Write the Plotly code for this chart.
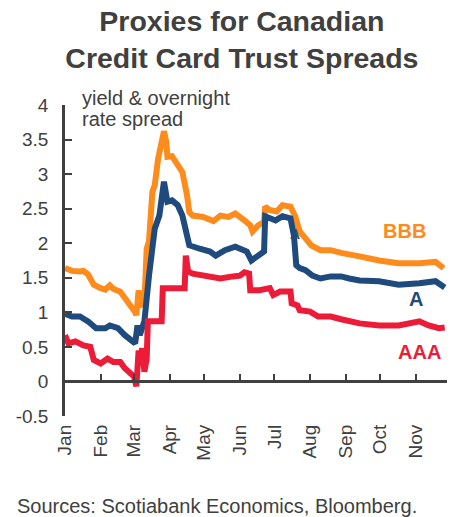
import plotly.graph_objects as go

# ---- data (2020) ----
bbb_dates = ["2020-01-01","2020-01-07","2020-01-14","2020-01-17","2020-01-21","2020-01-26","2020-02-01","2020-02-05",
             "2020-02-09","2020-02-12","2020-02-18","2020-02-24","2020-02-28","2020-03-02","2020-03-03","2020-03-05",
             "2020-03-06","2020-03-10","2020-03-12","2020-03-14","2020-03-17","2020-03-19","2020-03-22","2020-03-25",
             "2020-03-27","2020-03-29","2020-03-30","2020-04-03","2020-04-08","2020-04-12","2020-04-16","2020-04-18",
             "2020-04-21","2020-04-30","2020-05-09","2020-05-15","2020-05-22","2020-05-28","2020-06-05","2020-06-10",
             "2020-06-12","2020-06-17","2020-06-22","2020-06-23","2020-06-27","2020-07-03","2020-07-08","2020-07-15",
             "2020-07-19","2020-07-23","2020-07-28","2020-08-02","2020-08-10","2020-08-19","2020-08-28","2020-09-04",
             "2020-09-13","2020-09-30","2020-10-17","2020-11-04","2020-11-18","2020-11-25"]
bbb_values = [1.64,1.60,1.59,1.60,1.55,1.40,1.35,1.33,
              1.39,1.34,1.30,1.17,1.08,1.00,0.96,1.32,
              1.10,1.13,1.92,2.03,2.75,2.84,3.23,3.45,
              3.62,3.47,3.25,3.26,3.15,3.03,2.70,2.45,
              2.40,2.38,2.32,2.40,2.38,2.43,2.33,2.26,
              2.17,2.26,2.31,2.53,2.48,2.46,2.55,2.53,
              2.39,2.17,2.07,1.97,1.90,1.90,1.86,1.83,
              1.81,1.75,1.71,1.71,1.73,1.64]

a_dates = ["2020-01-01","2020-01-07","2020-01-14","2020-01-21","2020-01-28","2020-02-05","2020-02-09","2020-02-16",
           "2020-02-22","2020-02-28","2020-03-02","2020-03-04","2020-03-06","2020-03-10","2020-03-13","2020-03-14",
           "2020-03-19","2020-03-23","2020-03-27","2020-03-28","2020-03-30","2020-04-03","2020-04-08","2020-04-12",
           "2020-04-16","2020-04-18","2020-04-27","2020-05-06","2020-05-11","2020-05-19","2020-05-28","2020-06-01",
           "2020-06-07","2020-06-11","2020-06-17","2020-06-22","2020-06-23","2020-07-02","2020-07-08","2020-07-15",
           "2020-07-18","2020-07-20","2020-07-23","2020-07-28","2020-08-03","2020-08-10","2020-08-19","2020-08-28",
           "2020-09-04","2020-09-13","2020-09-30","2020-10-17","2020-11-04","2020-11-18","2020-11-26"]
a_values = [0.98,0.94,0.94,0.87,0.77,0.77,0.81,0.77,
            0.67,0.58,0.55,0.81,0.67,0.87,1.25,1.53,
            2.21,2.40,2.89,2.79,2.60,2.62,2.55,2.40,
            2.11,1.97,1.92,1.88,1.82,1.90,1.95,1.92,
            1.88,1.75,1.82,1.88,2.39,2.33,2.39,2.36,
            2.11,1.68,1.64,1.61,1.53,1.49,1.52,1.52,
            1.49,1.46,1.45,1.40,1.42,1.45,1.36]

aaa_dates = ["2020-01-01","2020-01-04","2020-01-10","2020-01-17","2020-01-23","2020-01-26","2020-02-01","2020-02-07",
             "2020-02-12","2020-02-18","2020-02-22","2020-02-26","2020-03-01","2020-03-03","2020-03-05","2020-03-06",
             "2020-03-08","2020-03-10","2020-03-12","2020-03-13","2020-03-25","2020-03-26","2020-04-14","2020-04-15",
             "2020-04-17","2020-04-21","2020-05-04","2020-05-15","2020-05-26","2020-06-01","2020-06-05","2020-06-09",
             "2020-06-10","2020-06-18","2020-06-27","2020-06-30","2020-07-06","2020-07-15","2020-07-16","2020-07-21",
             "2020-07-23","2020-08-01","2020-08-08","2020-08-19","2020-08-28","2020-09-03","2020-09-13","2020-09-30",
             "2020-10-17","2020-11-04","2020-11-12","2020-11-21","2020-11-26"]
aaa_values = [0.67,0.55,0.58,0.52,0.50,0.31,0.26,0.33,
              0.28,0.28,0.19,0.14,0.07,-0.07,0.45,0.23,
              0.48,0.14,0.33,0.87,0.87,1.35,1.35,1.82,
              1.59,1.56,1.52,1.49,1.52,1.53,1.58,1.56,
              1.32,1.32,1.35,1.25,1.30,1.30,1.13,1.10,
              1.03,1.01,0.94,0.94,0.90,0.87,0.84,0.81,
              0.81,0.87,0.81,0.77,0.78]

series_names = ["BBB", "A", "AAA"]
series_colors = ["#FD8C1C", "#1F4A7E", "#EC1C38"]

y_tickvals = [-0.5, 0, 0.5, 1, 1.5, 2, 2.5, 3, 3.5, 4]
y_ticktext = ["-0.5", "0", "0.5", "1", "1.5", "2", "2.5", "3", "3.5", "4"]

# label positions (data coords)
label_x = ["2020-10-22", "2020-11-01", "2020-11-04"]
label_y = [2.17, 1.19, 0.43]

x_range = ["2020-01-01", "2020-11-28"]
FONT = "Liberation Sans, Arial, sans-serif"
TXT = "#404040"

fig = go.Figure()
for d, v, c, n in [(bbb_dates, bbb_values, series_colors[0], "BBB"),
                   (a_dates, a_values, series_colors[1], "A"),
                   (aaa_dates, aaa_values, series_colors[2], "AAA")]:
    fig.add_trace(go.Scatter(x=d, y=v, mode="lines", name=n,
                             line=dict(color=c, width=6), showlegend=False,
                             hoverinfo="skip"))

# dummy trace to realise the zero-line x axis
fig.add_trace(go.Scatter(x=[x_range[0]], y=[None], xaxis="x2", yaxis="y",
                         mode="lines", showlegend=False, hoverinfo="skip"))

for n, c, lx, ly in zip(series_names, series_colors, label_x, label_y):
    fig.add_annotation(x=lx, y=ly, xref="x", yref="y", text=f"<b>{n}</b>",
                       showarrow=False, font=dict(family=FONT, size=20, color=c))

# stray small label in original
fig.add_annotation(x="2020-07-19", y=2.14, xref="x", yref="y", text="<b>A</b>",
                   showarrow=False, font=dict(family=FONT, size=14, color=series_colors[1]))

fig.add_annotation(x=0.039, y=1.0225, xref="paper", yref="paper", xanchor="left", yanchor="middle",
                   align="left", text="yield & overnight", showarrow=False,
                   font=dict(family=FONT, size=20, color=TXT))
fig.add_annotation(x=0.039, y=0.955, xref="paper", yref="paper", xanchor="left", yanchor="middle",
                   align="left", text="rate spread", showarrow=False,
                   font=dict(family=FONT, size=20, color=TXT))

fig.add_annotation(x=-0.131, y=-0.289, xref="paper", yref="paper", xanchor="left", yanchor="middle",
                   text="Sources: Scotiabank Economics, Bloomberg.", showarrow=False,
                   font=dict(family=FONT, size=20, color=TXT))

fig.update_layout(
    width=459, height=517,
    margin=dict(l=65, r=12, t=105, b=101),
    paper_bgcolor="white", plot_bgcolor="white",
    title=dict(text="<b>Proxies for Canadian<br>Credit Card Trust Spreads</b>",
               x=0.527, xanchor="center", y=1 - 31 / 517, yanchor="middle", yref="container",
               font=dict(family=FONT, size=28.5, color=TXT)),
    xaxis=dict(type="date", range=x_range, showline=False, showgrid=False, zeroline=False,
               ticks="", tickformat="%b", dtick="M1", tick0="2020-01-01", tickangle=-90,
               tickfont=dict(family=FONT, size=19, color=TXT), ticklabelstandoff=4),
    xaxis2=dict(type="date", range=x_range, overlaying="x", anchor="free", position=0.5 / 4.5,
                showline=True, linecolor=TXT, linewidth=2.5, ticks="inside", ticklen=7,
                tickwidth=2, tickcolor=TXT, dtick="M1", tick0="2020-01-01",
                showticklabels=False, showgrid=False, zeroline=False),
    yaxis=dict(range=[-0.5, 4], showline=True, linecolor=TXT, linewidth=2.5, ticks="inside",
               ticklen=7, tickwidth=2, tickcolor=TXT, tickvals=y_tickvals, ticktext=y_ticktext,
               showgrid=False, zeroline=False, ticklabelstandoff=10,
               tickfont=dict(family=FONT, size=19, color=TXT)),
)

fig.write_html("out.html")
